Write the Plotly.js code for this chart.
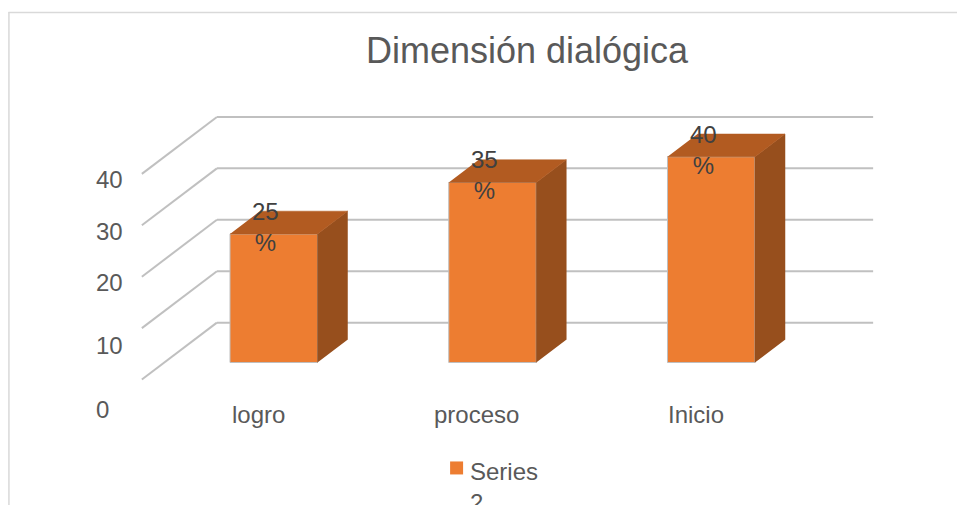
<!DOCTYPE html>
<html>
<head>
<meta charset="utf-8">
<script src="https://cdn.plot.ly/plotly-3.0.1.min.js"></script>
<style>html,body{margin:0;padding:0;background:#fff;}#chart{width:957px;height:505px;}</style>
</head>
<body>
<div id="chart"></div>
<script>
// ---- data ----
const categories = ["logro", "proceso", "Inicio"];
const values = [25, 35, 40];
const valueSuffix = "%";
const yTickVals = [0, 10, 20, 30, 40];
const yTickText = ["0", "10", "20", "30", "40"];
const seriesName = "Series 2";
const chartTitle = "Dimensión dialógica";

// ---- layout / geometry constants ----
const W = 957, H = 505;
const FONT = "Liberation Sans, Arial, sans-serif";
const FRONT = "#ED7D31", TOP = "#B25B21", SIDE = "#974F1D";
const GRID = "#C0C0C0", TEXT = "#595959", LABEL = "#404040";
const DX = 0.343, DY = 11.07;          // full depth offset (category units, value units)
const D0 = 0.3, D1 = 0.7, HALF = 0.2;  // bar depth slice and half width
const PXX = 218.9, PXY = 263 / (40 + DY); // pixels per unit
const X0PX = 251, Y0PX = 380;          // pixel of x=0 / y=0
const xr = [-0.6, 2.5 + DX + 0.1], yr = [-3, 53];
const pxOfX = v => X0PX + v * PXX, pxOfY = v => Y0PX - v * PXY;
const mL = pxOfX(xr[0]), mR = W - pxOfX(xr[1]);
const mT = pxOfY(yr[1]), mB = H - pxOfY(yr[0]);
const paperX = px => (px - mL) / (W - mL - mR);
const paperY = py => (H - mB - py) / (H - mT - mB);
const yLabelDrop = [30, 17, 6, 6, 6];

const xs = categories.map((c, i) => i);
const base = D0 * DY;
const ddx = (D1 - D0) * DX, ddy = (D1 - D0) * DY;

// front faces
const front = {
  type: "bar", x: xs.map(i => i + D0 * DX), y: values, base: base, width: 2 * HALF,
  marker: {color: FRONT, line: {color: "#BFBFBF", width: 1}},
  name: seriesName, showlegend: false, hoverinfo: "skip"
};
// side & top faces
const sx = [], sy = [], tx = [], ty = [];
xs.forEach((i, k) => {
  const xa = i + D0 * DX - HALF, xb = i + D0 * DX + HALF, top = base + values[k];
  sx.push(xb, xb, xb + ddx, xb + ddx, null);
  sy.push(base, top, top + ddy, base + ddy, null);
  tx.push(xa, xb, xb + ddx, xa + ddx, null);
  ty.push(top, top, top + ddy, top + ddy, null);
});
const side = {type: "scatter", mode: "lines", x: sx, y: sy, fill: "toself", fillcolor: SIDE,
  line: {color: SIDE, width: 0.5}, showlegend: false, hoverinfo: "skip"};
const topF = {type: "scatter", mode: "lines", x: tx, y: ty, fill: "toself", fillcolor: TOP,
  line: {color: TOP, width: 0.5}, showlegend: false, hoverinfo: "skip"};

// gridlines (back wall + floor/side diagonals)
const shapes = [];
yTickVals.forEach(v => {
  shapes.push({type: "line", xref: "x", yref: "y", layer: "below", x0: -0.5, y0: v, x1: -0.5 + DX, y1: v + DY,
    line: {color: GRID, width: 2}});
  shapes.push({type: "line", xref: "x", yref: "y", layer: "below", x0: -0.5 + DX, y0: v + DY, x1: 2.5 + DX, y1: v + DY,
    line: {color: GRID, width: 2}});
});
// chart border
shapes.push({type: "line", xref: "paper", yref: "paper", x0: paperX(8), y0: paperY(12.5), x1: paperX(960), y1: paperY(12.5),
  line: {color: "#D9D9D9", width: 1.5}});
shapes.push({type: "line", xref: "paper", yref: "paper", x0: paperX(8.5), y0: paperY(12), x1: paperX(8.5), y1: paperY(510),
  line: {color: "#D9D9D9", width: 1.5}});
// legend swatch
shapes.push({type: "rect", xref: "paper", yref: "paper", x0: paperX(450), x1: paperX(463), y0: paperY(475), y1: paperY(462),
  fillcolor: FRONT, line: {width: 0}});

const annotations = [];
values.forEach((v, k) => {
  annotations.push({x: xs[k] + D0 * DX, y: base + v, xref: "x", yref: "y", text: v + "<br>" + valueSuffix,
    showarrow: false, xshift: -8, yshift: 7, xanchor: "center", yanchor: "middle",
    font: {family: FONT, size: 24, color: LABEL}});
});
categories.forEach((c, k) => {
  annotations.push({x: xs[k], y: 0, xref: "x", yref: "y", text: c, showarrow: false, xshift: 7, yshift: -35,
    xanchor: "center", yanchor: "middle", font: {family: FONT, size: 24, color: TEXT}});
});
yTickVals.forEach((v, k) => {
  annotations.push({x: -0.5, y: v, xref: "x", yref: "y", text: yTickText[k], showarrow: false, xshift: -48,
    yshift: -yLabelDrop[k], xanchor: "left", yanchor: "middle", font: {family: FONT, size: 24, color: TEXT}});
});
annotations.push({x: paperX(468), y: paperY(457), xref: "paper", yref: "paper", text: seriesName.replace(" ", "<br>"),
  showarrow: false, xanchor: "left", yanchor: "top", align: "left", font: {family: FONT, size: 24, color: TEXT}});

const layout = {
  width: W, height: H, autosize: false,
  margin: {l: mL, r: mR, t: mT, b: mB, pad: 0},
  paper_bgcolor: "#fff", plot_bgcolor: "rgba(0,0,0,0)",
  title: {text: chartTitle, x: 527 / W, xanchor: "center", xref: "container", y: 1 - 50 / H, yanchor: "middle", yref: "container",
    font: {family: FONT, size: 36, color: TEXT}},
  xaxis: {range: xr, visible: false, fixedrange: true},
  yaxis: {range: yr, visible: false, fixedrange: true},
  showlegend: false, bargap: 0,
  shapes: shapes, annotations: annotations
};
Plotly.newPlot("chart", [front, side, topF], layout, {displayModeBar: false, staticPlot: true});
</script>
</body>
</html>
